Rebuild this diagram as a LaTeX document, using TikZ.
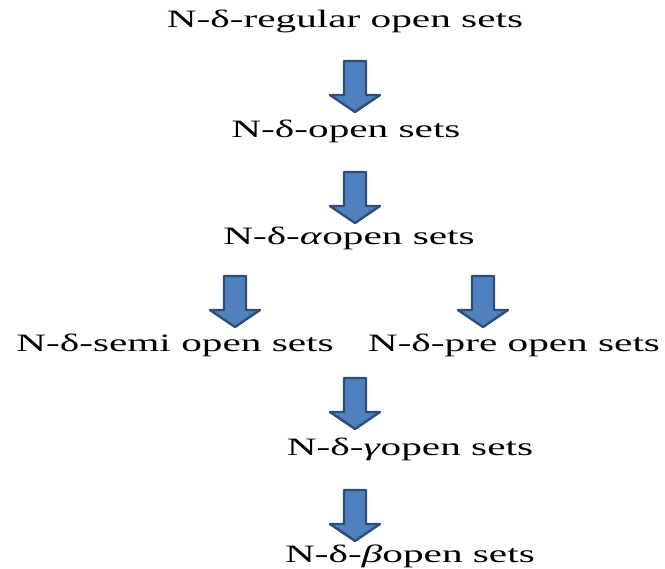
\documentclass[tikz,border=0pt]{standalone}
\usepackage{fontspec}
\setmainfont[FakeStretch=1.65]{Liberation Serif}
\definecolor{arrowfill}{HTML}{4F81BD}
\definecolor{arrowline}{HTML}{2E4D7B}
\begin{document}
\begin{tikzpicture}[x=1pt,y=-1pt,
  label/.style={anchor=base,inner sep=0pt,font=\fontsize{25}{28}\selectfont},
  blockarrow/.pic={
    \path[fill=arrowfill,draw=arrowline,line width=2.4pt,line join=round]
      (-11,0) -- (11,0) -- (11,34) -- (25,34) -- (0,51) -- (-25,34) -- (-11,34) -- cycle;
  }]
\useasboundingbox (0,0) rectangle (665,569);
% set families, top to bottom
\node[label] (reg)  at (345,28)  {N-δ-regular open sets};
\node[label] (del)  at (346,138) {N-δ-open sets};
\node[label] (alp)  at (349,245) {N-δ-\textit{α}open sets};
\node[label] (semi) at (175,352) {N-δ-semi open sets};
\node[label] (pre)  at (514,352) {N-δ-pre open sets};
\node[label] (gam)  at (410,456) {N-δ-\textit{γ}open sets};
\node[label] (bet)  at (410,563) {N-δ-\textit{β}open sets};
% inclusion arrows
\pic at (355,61)  {blockarrow};
\pic at (355,172) {blockarrow};
\pic at (235,276) {blockarrow};
\pic at (483,276) {blockarrow};
\pic at (355,378) {blockarrow};
\pic at (355,490) {blockarrow};
\end{tikzpicture}
\end{document}
